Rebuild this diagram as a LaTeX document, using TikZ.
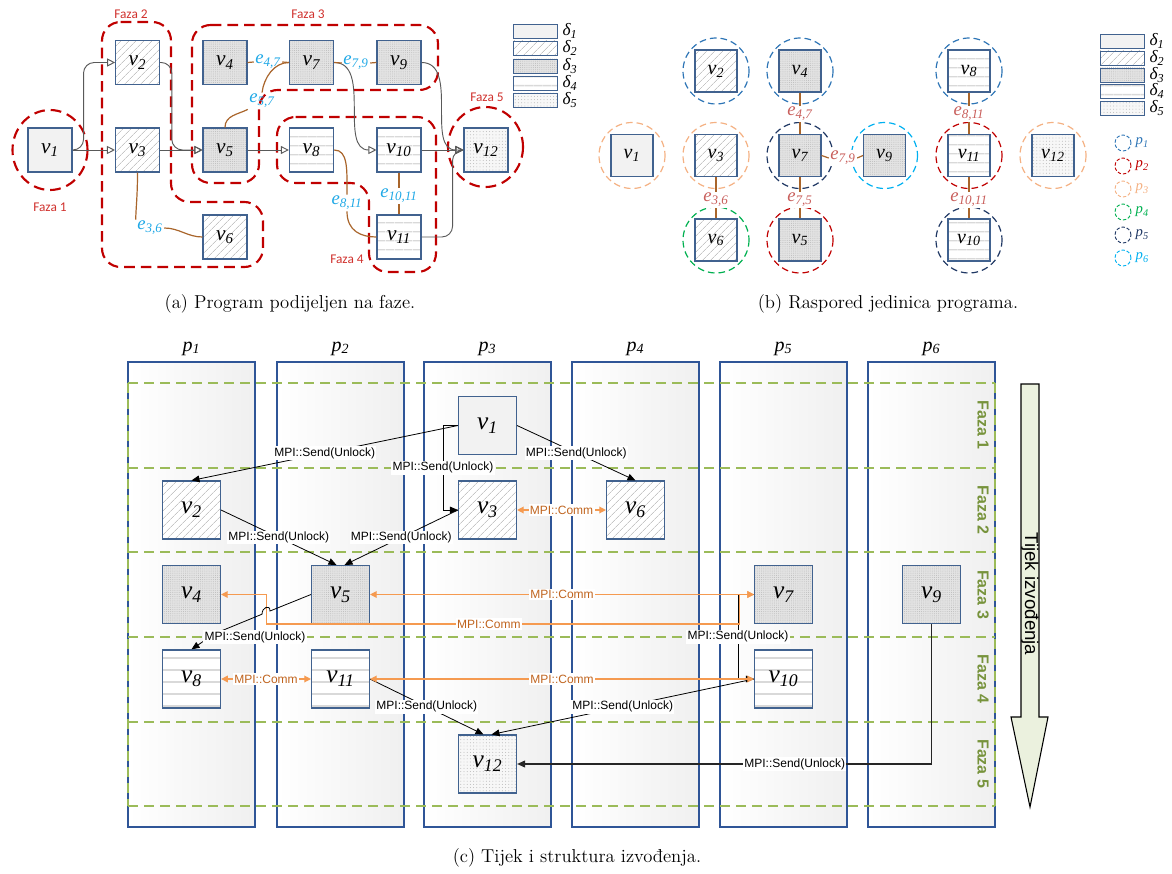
\documentclass[tikz,border=0pt]{standalone}
\usepackage{fontspec}
\newfontfamily\tnr{Liberation Serif}
\newfontfamily\arial{Liberation Sans}
\newfontfamily\calib{Carlito}
\usepackage{xcolor}
\definecolor{boxblue}{HTML}{41628F}
\definecolor{laneblue}{HTML}{2F5597}
\definecolor{fazared}{HTML}{C00000}
\definecolor{fazalab}{HTML}{D0312D}
\definecolor{databrown}{HTML}{A9652B}
\definecolor{eblue}{HTML}{1FA8E6}
\definecolor{ered}{HTML}{C95F5C}
\definecolor{fazagreen}{HTML}{9BBB59}
\definecolor{fazatext}{HTML}{77933C}
\definecolor{commline}{HTML}{F59A50}
\definecolor{commtext}{HTML}{C0641E}
\definecolor{flowfill}{HTML}{EBF1DE}
\definecolor{pone}{HTML}{2E75B6}
\definecolor{ptwo}{HTML}{C00000}
\definecolor{pthree}{HTML}{F4B183}
\definecolor{pfour}{HTML}{00B050}
\definecolor{pfive}{HTML}{203864}
\definecolor{psix}{HTML}{00B0F0}
\usepackage{tikz}
\usetikzlibrary{positioning, arrows.meta, patterns.meta, calc}
\newcommand{\vlab}[1]{v\textsubscript{#1}}
\newcommand{\elab}[1]{e\textsubscript{#1}}
\tikzset{
    unit/.style     = {rectangle, draw=boxblue, line width=.8pt, inner sep=0pt},
    unita/.style    = {unit, minimum size=33pt, font=\tnr\itshape\fontsize{16}{16}\selectfont},
    unitb/.style    = {unit, minimum size=31.5pt, font=\tnr\itshape\fontsize{15}{15}\selectfont},
    unitc/.style    = {unit, minimum size=43.5pt, font=\tnr\itshape\fontsize{19}{19}\selectfont},
    legbox/.style   = {unit, line width=.7pt, minimum width=33.5pt, minimum height=10.5pt},
    delta1/.style   = {fill=gray!10},
    delta2/.style   = {preaction={fill=white}, pattern={Lines[angle=45, distance=4pt, line width=.5pt]},
                       pattern color=gray!45},
    delta3/.style   = {preaction={fill=gray!22}, pattern={Dots[distance=1.6pt, radius=.35pt]},
                       pattern color=gray!55},
    delta4/.style   = {preaction={fill=white}, pattern={Lines[angle=0, distance=#1, line width=1pt]},
                       pattern color=gray!30},
    delta4/.default = 6.5pt,
    delta5/.style   = {preaction={fill=gray!6}, pattern={Dots[distance=2.4pt, radius=.35pt]},
                       pattern color=gray!60},
    elaba/.style    = {inner sep=1pt, text=eblue, font=\tnr\itshape\fontsize{14}{14}\selectfont},
    elabb/.style    = {elaba, text=ered, fill=white},
    fazalbl/.style  = {text=fazalab, font=\calib\fontsize{10}{10}\selectfont},
    dlab/.style     = {inner sep=0pt, font=\tnr\itshape\fontsize{13}{13}\selectfont},
    fazaline/.style = {draw=fazared, line width=1.6pt, dash pattern=on 8pt off 4.5pt, rounded corners=14pt},
    pcirc/.style    = {dash pattern=on 5pt off 3pt, line width=.9pt},
    flowedge/.style = {-{Triangle[open, length=6pt, width=6pt]}, draw=gray!70!black, line width=.7pt},
    dataedge/.style = {draw=databrown, line width=.9pt},
    sendarrow/.style = {-{Triangle[length=6pt, width=5pt]}, line width=.6pt},
    commarrow/.style = {{Triangle[length=5pt, width=5pt]}-{Triangle[length=5pt, width=5pt]},
                        draw=commline, line width=.9pt},
    msglab/.style   = {fill=white, inner sep=1pt, font=\arial\fontsize{9}{9}\selectfont},
    commlab/.style  = {msglab, text=commtext},
    lane/.style     = {draw=laneblue, line width=.9pt, left color=white, right color=gray!12,
                       minimum width=95.25pt, minimum height=348.75pt, inner sep=0pt},
    fazabox/.style  = {draw=fazagreen, line width=1.2pt, dash pattern=on 7.5pt off 4.5pt},
    fazatag/.style  = {rotate=-90, text=fazatext, font=\arial\bfseries\fontsize{12}{12}\selectfont},
    plab/.style     = {font=\tnr\itshape\fontsize{15}{15}\selectfont},
    capt/.style     = {font=\fontsize{14}{16}\selectfont},
}
\begin{document}
\begin{tikzpicture}[x=0.75pt, y=-0.75pt]
    \useasboundingbox (0,0) rectangle (1172,874);

    % (a) phase outlines
    \draw[fazaline] (50,150) ellipse [x radius=37.5, y radius=40];
    \draw[fazaline] (102,22) -- (171,22) -- (171,202) -- (263,202) -- (263,267) -- (102,267) -- cycle;
    \draw[fazaline] (192,25) -- (438,25) -- (438,90) -- (259,90) -- (259,183) -- (192,183) -- cycle;
    \draw[fazaline] (277,117) -- (436,117) -- (436,272) -- (369,272) -- (369,183) -- (277,183) -- cycle;
    \draw[fazaline] (485.5,147) ellipse [x radius=37.5, y radius=40];
    \node[fazalbl] (f1) at (50,207) {Faza 1};
    \node[fazalbl] (f2) at (131,14) {Faza 2};
    \node[fazalbl] (f3) at (308,14) {Faza 3};
    \node[fazalbl] (f4) at (347,259) {Faza 4};
    \node[fazalbl] (f5) at (487,97) {Faza 5};

    % (a) program units
    \node[unita, delta1] (a1)  at (50,150)     {\vlab{1}};
    \node[unita, delta2] (a2)  at (137.5,62.5) {\vlab{2}};
    \node[unita, delta2] (a3)  at (137.5,150)  {\vlab{3}};
    \node[unita, delta3] (a4)  at (225,62.5)   {\vlab{4}};
    \node[unita, delta3] (a5)  at (225,150)    {\vlab{5}};
    \node[unita, delta2] (a6)  at (225,237)    {\vlab{6}};
    \node[unita, delta3] (a7)  at (311.5,62.5) {\vlab{7}};
    \node[unita, delta4] (a8)  at (311.5,150)  {\vlab{8}};
    \node[unita, delta3] (a9)  at (399,62.5)   {\vlab{9}};
    \node[unita, delta4] (a10) at (399,150)    {\vlab{10}};
    \node[unita, delta4] (a11) at (399,237)    {\vlab{11}};
    \node[unita, delta5] (a12) at (486,150)    {\vlab{12}};

    % (a) control flow
    \draw[flowedge, rounded corners=8pt] (a1.east) -- ++(11,0) |- (a2.west);
    \draw[flowedge] (a1) -- (a3);
    \draw[flowedge] (a3) -- (a5);
    \draw[flowedge, rounded corners=8pt] (a2.east) -- ++(12,0) |- (a5.west);
    \draw[flowedge] (a5) -- (a8);
    \draw[flowedge] (a7.east) to[out=0, in=180] (a10.west);
    \draw[flowedge] (a10) -- (a12);
    \draw[flowedge] (a9.east) to[out=0, in=180] (a12.west);
    \draw[flowedge, rounded corners=8pt] (a11.east) -- ++(31,0) |- (a12.west);

    % (a) data dependences
    \node[elaba] (e36a)   at (150,228) {\elab{3,6}};
    \node[elaba] (e47a)   at (268,62)  {\elab{4,7}};
    \node[elaba] (e57a)   at (262,101) {\elab{5,7}};
    \node[elaba] (e79a)   at (356,63)  {\elab{7,9}};
    \node[elaba] (e811a)  at (347,203) {\elab{8,11}};
    \node[elaba] (e1011a) at (399,196) {\elab{10,11}};
    \draw[dataedge] (a3.south) .. controls +(0,25) and +(0,-10) .. (e36a.north west);
    \draw[dataedge] (e36a.east) .. controls +(15,0) and +(-15,0) .. (a6.west);
    \draw[dataedge] (a4.east) -- (e47a.west);
    \draw[dataedge] (e47a.east) -- (a7.west);
    \draw[dataedge] (a5.north) .. controls +(0,-12) and +(-10,5) .. (e57a.south west);
    \draw[dataedge] (e57a.north) .. controls +(2,-15) and +(-15,0) .. (a7.west);
    \draw[dataedge] (a7.east) -- (e79a.west);
    \draw[dataedge] (e79a.east) -- (a9.west);
    \draw[dataedge] (a8.east) .. controls +(14,0) and +(0,-25) .. (e811a.north);
    \draw[dataedge] (e811a.south) .. controls +(0,20) and +(-15,0) .. (a11.west);
    \draw[dataedge] (a10.south) -- (e1011a.north);
    \draw[dataedge] (e1011a.south) -- (a11.north);

    % (a) legend
    \foreach \i/\y in {1/31, 2/48, 3/66, 4/83, 5/100}{
        \node[legbox, delta\i] (da\i) at (535.5,\y) {};
        \node[dlab, right=3pt of da\i] (dla\i) {δ\textsubscript{\i}};
    }

    % (b) placement on processors
    \draw[pcirc, pthree] (632,155.5) circle [radius=33];
    \draw[pcirc, pone]   (716,71)    circle [radius=33];
    \draw[pcirc, pthree] (716,155.5) circle [radius=33];
    \draw[pcirc, pfour]  (716,240)   circle [radius=33];
    \draw[pcirc, pone]   (800,71)    circle [radius=33];
    \draw[pcirc, pfive]  (800,155.5) circle [radius=33];
    \draw[pcirc, ptwo]   (800,240)   circle [radius=33];
    \draw[pcirc, psix]   (884.5,155.5) circle [radius=33];
    \draw[pcirc, pone]   (969,71)    circle [radius=33];
    \draw[pcirc, ptwo]   (969,155.5) circle [radius=33];
    \draw[pcirc, pfive]  (969,240)   circle [radius=33];
    \draw[pcirc, pthree] (1053,155.5) circle [radius=33];
    \node[unitb, delta1] (b1)  at (632,155.5)   {\vlab{1}};
    \node[unitb, delta2] (b2)  at (716,71)      {\vlab{2}};
    \node[unitb, delta2] (b3)  at (716,155.5)   {\vlab{3}};
    \node[unitb, delta2] (b6)  at (716,240)     {\vlab{6}};
    \node[unitb, delta3] (b4)  at (800,71)      {\vlab{4}};
    \node[unitb, delta3] (b7)  at (800,155.5)   {\vlab{7}};
    \node[unitb, delta3] (b5)  at (800,240)     {\vlab{5}};
    \node[unitb, delta3] (b9)  at (884.5,155.5) {\vlab{9}};
    \node[unitb, delta4] (b8)  at (969,71)      {\vlab{8}};
    \node[unitb, delta4] (b11) at (969,155.5)   {\vlab{11}};
    \node[unitb, delta4] (b10) at (969,240)     {\vlab{10}};
    \node[unitb, delta5] (b12) at (1053,155.5)  {\vlab{12}};
    \node[elabb] (e47b)   at (800,114) {\elab{4,7}};
    \node[elabb] (e36b)   at (716,200) {\elab{3,6}};
    \node[elabb] (e75b)   at (800,200) {\elab{7,5}};
    \node[elabb] (e79b)   at (843,158) {\elab{7,9}};
    \node[elabb] (e811b)  at (969,114) {\elab{8,11}};
    \node[elabb] (e1011b) at (969,200) {\elab{10,11}};
    \draw[dataedge] (b4.south) -- (e47b.north);
    \draw[dataedge] (e47b.south) -- (b7.north);
    \draw[dataedge] (b3.south) -- (e36b.north);
    \draw[dataedge] (e36b.south) -- (b6.north);
    \draw[dataedge] (b7.south) -- (e75b.north);
    \draw[dataedge] (e75b.south) -- (b5.north);
    \draw[dataedge] (b7.east) -- (e79b.west);
    \draw[dataedge] (e79b.east) -- (b9.west);
    \draw[dataedge] (b8.south) -- (e811b.north);
    \draw[dataedge] (e811b.south) -- (b11.north);
    \draw[dataedge] (b11.south) -- (e1011b.north);
    \draw[dataedge] (e1011b.south) -- (b10.north);

    % (b) legend
    \foreach \i/\y in {1/41, 2/58, 3/75, 4/91, 5/108}{
        \node[legbox, delta\i] (db\i) at (1122.5,\y) {};
        \node[dlab, right=3pt of db\i] (dlb\i) {δ\textsubscript{\i}};
    }
    \foreach \i/\y/\c in {1/143/pone, 2/166/ptwo, 3/189/pthree, 4/212/pfour, 5/235/pfive, 6/258/psix}{
        \node[circle, draw=\c, line width=.7pt, dash pattern=on 2.5pt off 1.5pt,
              minimum size=12pt, inner sep=0pt] (pl\i) at (1123,\y) {};
        \node[right=3pt of pl\i, inner sep=0pt, text=\c,
              font=\tnr\itshape\fontsize{11}{11}\selectfont] (plt\i) {p\textsubscript{\i}};
    }

    % (c) processor lanes and phases
    \foreach \i/\x in {1/191.5, 2/340.5, 3/487.5, 4/635.5, 5/783.5, 6/931.5}{
        \node[lane] (lane\i) at (\x,594.5) {};
        \node[plab, above=1pt of lane\i] (pt\i) {p\textsubscript{\i}};
    }
    \foreach \y in {383, 468, 552, 637, 722, 806}{
        \draw[fazabox] (128,\y) -- (995,\y);
    }
    \draw[fazabox] (128,383) -- (128,806);
    \draw[fazabox] (995,383) -- (995,806);
    \foreach \i in {1,...,5}{
        \node[fazatag] (ft\i) at (983,{425.3+84.6*(\i-1)}) {Faza \i};
    }
    % flow arrow
    \draw[fill=flowfill, line width=.8pt] (1021,384) -- (1039,384) -- (1039,717) -- (1048,717)
          -- (1030,807) -- (1011,717) -- (1021,717) -- cycle;
    \node[rotate=-90, font=\arial\fontsize{14}{14}\selectfont] (flowtxt) at (1030,594) {Tijek izvođenja};

    % (c) units in lanes
    \node[unitc, delta1]     (c1)  at (487.5,425.5) {\vlab{1}};
    \node[unitc, delta2]     (c2)  at (191.5,510)   {\vlab{2}};
    \node[unitc, delta2]     (c3)  at (487.5,510)   {\vlab{3}};
    \node[unitc, delta2]     (c6)  at (635.5,510)   {\vlab{6}};
    \node[unitc, delta3]     (c4)  at (191.5,594.5) {\vlab{4}};
    \node[unitc, delta3]     (c5)  at (340.5,594.5) {\vlab{5}};
    \node[unitc, delta3]     (c7)  at (783.5,594.5) {\vlab{7}};
    \node[unitc, delta3]     (c9)  at (931.5,594.5) {\vlab{9}};
    \node[unitc, delta4=9pt] (c8)  at (191.5,679)   {\vlab{8}};
    \node[unitc, delta4=9pt] (c11) at (340.5,679)   {\vlab{11}};
    \node[unitc, delta4=9pt] (c10) at (783.5,679)   {\vlab{10}};
    \node[unitc, delta5]     (c12) at (487.5,764)   {\vlab{12}};

    % (c) unlock messages
    \draw[sendarrow] (c1.west) -- node[msglab] {MPI::Send(Unlock)} (c2.north);
    \draw[sendarrow] (c1.west) -- ++(-15,0) |- node[msglab, pos=.25] {MPI::Send(Unlock)} (c3.west);
    \draw[sendarrow] (c1.east) -- node[msglab] {MPI::Send(Unlock)} (c6.north);
    \draw[sendarrow] (c2.east) -- node[msglab] {MPI::Send(Unlock)} ([xshift=-3pt]c5.north);
    \draw[sendarrow] (c3.west) -- node[msglab] {MPI::Send(Unlock)} ([xshift=3pt]c5.north);
    \draw[sendarrow] (c7.west) -- ++(-16,0) |- node[msglab, pos=.25] {MPI::Send(Unlock)} (c10.west);
    \draw[sendarrow] (c11.east) -- node[msglab] {MPI::Send(Unlock)} ([xshift=-3pt]c12.north);
    \draw[sendarrow] (c10.west) -- node[msglab] {MPI::Send(Unlock)} ([xshift=3pt]c12.north);
    \draw[sendarrow, draw=gray!30!black, line width=1.2pt] (c9.south) |- node[msglab, pos=.665] {MPI::Send(Unlock)} (c12.east);

    % (c) communication
    \draw[commarrow] (c3.east) -- node[commlab] {MPI::Comm} (c6.west);
    \draw[commarrow] (c5.east) -- node[commlab] {MPI::Comm} (c7.west);
    \draw[commarrow] (c4.east) -- ++(45.5,0) -- ++(0,29.5) -- node[commlab, pos=.47] {MPI::Comm} ++(473,0)
          -- ++(0,-29.5) -- (c7.west);
    \draw[commarrow] (c8.east) -- node[commlab] {MPI::Comm} (c11.west);
    \draw[commarrow] (c11.east) -- node[commlab] {MPI::Comm} (c10.west);
    % v5 to v8 hops over the orange line
    \draw[sendarrow] (c5.west) -- (270,611) .. controls +(0,-7) and +(0,-7) .. (262,614.2) -- (215,633.5) -- (c8.north);
    \node[msglab] (m58) at (255,637) {MPI::Send(Unlock)};

    % captions
    \node[capt] (capa) at (290,304) {(a) Program podijeljen na faze.};
    \node[capt] (capb) at (888,304) {(b) Raspored jedinica programa.};
    \node[capt] (capc) at (577,858) {(c) Tijek i struktura izvođenja.};
\end{tikzpicture}
\end{document}
